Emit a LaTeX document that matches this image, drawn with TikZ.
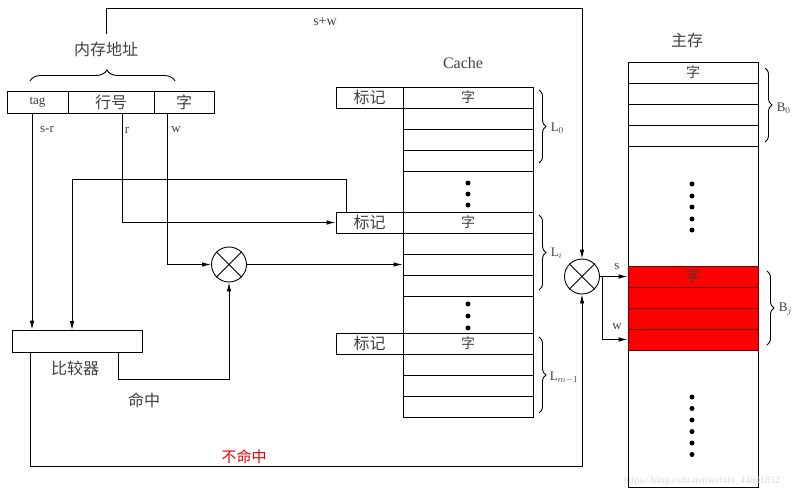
\documentclass[tikz,border=0pt]{standalone}
\usepackage{fontspec}
\setmainfont{Liberation Serif}
\newfontfamily\cjk{Noto Sans CJK SC}
\usetikzlibrary{arrows.meta,decorations.pathreplacing,calc}
\begin{document}
\begin{tikzpicture}[x=1pt,y=-1pt,
  line width=0.9pt,
  arr/.style={-{Latex[length=9pt,width=4.5pt]}},
  cell/.style={draw, inner sep=0pt, minimum height=21pt, text=black!75},
  cjkt/.style={font=\cjk\fontsize{16}{16}\selectfont, text=black!75},
  cjks/.style={font=\cjk\fontsize{14}{14}\selectfont, text=black!75},
  lat/.style={font=\fontsize{13}{13}\selectfont, text=black!75},
  mux/.style={draw, circle, minimum size=35pt, inner sep=0pt},
  brc/.style={decorate, decoration={brace, amplitude=7pt}},
  dotc/.style={circle, fill=black, inner sep=0pt, minimum size=5pt},
  crow/.style={cell, minimum width=130pt},
  redrow/.style={cell, minimum width=130pt, fill=red, draw=black!60!red},
]
\useasboundingbox (0,0) rectangle (800,492);

% ---------- address ----------
\node[cjkt] (addrlbl) at (106,49) {内存地址};
\draw[decorate, decoration={brace, amplitude=11pt, aspect=0.53}] (30,81) -- (175,81);
\node[cell, lat, minimum width=61pt, minimum height=22pt] (tag) at (37.5,102) {tag};
\node[cell, cjkt, minimum width=86pt, minimum height=22pt] (rowf) at (111,102) {行号};
\node[cell, cjkt, minimum width=60pt, minimum height=22pt] (wordf) at (184,102) {字};
\coordinate (addrtop) at (106,34);
\coordinate (tagout) at (32,113);
\coordinate (rowout) at (122,113);
\coordinate (wordout) at (167,113);
\node[lat] (lsr) at (47,130) {s-r};
\node[lat] (lr) at (127,130) {r};
\node[lat] (lw) at (176,130) {w};

% ---------- comparator ----------
\node[draw, minimum width=130pt, minimum height=22pt, inner sep=0pt] (cmp) at (77,341) {};
\node[cjkt] (cmplbl) at (75,368) {比较器};
\coordinate (cmphit) at (118,352);
\coordinate (cmpmiss) at (30,352);
\coordinate (cmpin2) at (72,330);
\node[cjkt] (hitlbl) at (144,400) {命中};
\node[font=\cjk\fontsize{15}{15}\selectfont, text=red!90!black] (misslbl) at (244,457) {不命中};

% ---------- muxes ----------
\node[mux] (mux1) at (229,264.5) {};
\draw (mux1.north east) -- (mux1.south west) (mux1.north west) -- (mux1.south east);
\node[mux] (mux2) at (582,276.5) {};
\draw (mux2.north east) -- (mux2.south west) (mux2.north west) -- (mux2.south east);

% ---------- cache ----------
\node[font=\fontsize{16}{16}\selectfont, text=black!75] (cachelbl) at (463,63) {Cache};
\draw (403,87) rectangle (533,417);
\foreach \b/\s in {0/87, i/212, m/333} {
  \node[cell, cjkt, minimum width=67pt] (tag\b) at (369.5,\s+10.5) {标记};
  \node[crow, cjks] (c\b1) at (468,\s+10.5) {字};
  \node[crow] (c\b2) at (468,\s+31.5) {};
  \node[crow] (c\b3) at (468,\s+52.5) {};
  \node[crow] (c\b4) at (468,\s+73.5) {};
}
\foreach \y in {183,194,205,304,316,328} \node[dotc] at (468,\y) {};
\draw[brc] (539,90) -- (539,163);
\node[lat, anchor=west] (l0) at (547,128) {L$_0$};
\draw[brc] (539,215) -- (539,290);
\node[lat, anchor=west] (li) at (547,253) {L$_i$};
\draw[brc] (539,337) -- (539,413);
\node[lat, anchor=west] (lm) at (546,378) {L$_{m-1}$};

% ---------- main memory ----------
\node[cjkt] (memlbl) at (687,40) {主存};
\node[draw, minimum width=130pt, minimum height=425pt, inner sep=0pt] (mem) at (693,274.5) {};
\node[crow, cjks] (m1) at (693,72.5) {字};
\node[crow] (m2) at (693,93.5) {};
\node[crow] (m3) at (693,114.5) {};
\node[crow] (m4) at (693,135.5) {};
\node[redrow, cjks] (r1) at (693,276.5) {字};
\node[redrow] (r2) at (693,297.5) {};
\node[redrow] (r3) at (693,318.5) {};
\node[redrow] (r4) at (693,339.5) {};
\foreach \y in {184,196,207,219,230} \node[dotc] at (692,\y) {};
\foreach \y in {397,408.5,420,431.5,443,454.5} \node[dotc] at (692,\y) {};
\draw[brc] (765,68) -- (765,142);
\node[lat, anchor=west] (b0) at (773,108) {B$_0$};
\draw[brc] (767,271) -- (767,345);
\node[lat, anchor=west] (bj) at (775,309) {B$_j$};

% ---------- connectors ----------
\draw[arr] (addrtop) -- ++(0,-26) -| (mux2.north);
\node[font=\fontsize{14}{14}\selectfont, text=black!75] (swlbl) at (325,22) {s+w};
\draw[arr] (tagout) -- (tagout |- cmp.north);
\draw[arr] (rowout) |- (tagi.west);
\draw[arr] (wordout) |- (mux1.west);
\draw[arr] ($(tagi.north west)+(11,0)$) -- ++(0,-32) -| (cmpin2);
\draw[arr] (cmphit) -- ++(0,27) -| (mux1.south);
\draw[arr] (cmpmiss) -- ++(0,114) -| (mux2.south);
\draw[arr] (mux1.east) -- (ci3.west);
\draw[arr] (mux2.east) -- (r1.west);
\coordinate (br) at ($(mux2.east)+(2,0)$);
\draw[arr] (br) |- (r4.west);
\node[lat] (slbl) at (617,266) {s};
\node[lat] (wlbl) at (617,327) {w};

% watermark
\node[font=\fontsize{10}{10}\selectfont, text=black!15] (wm) at (702,481) {https://blog.csdn.net/weixin\_44801852};
\end{tikzpicture}
\end{document}
